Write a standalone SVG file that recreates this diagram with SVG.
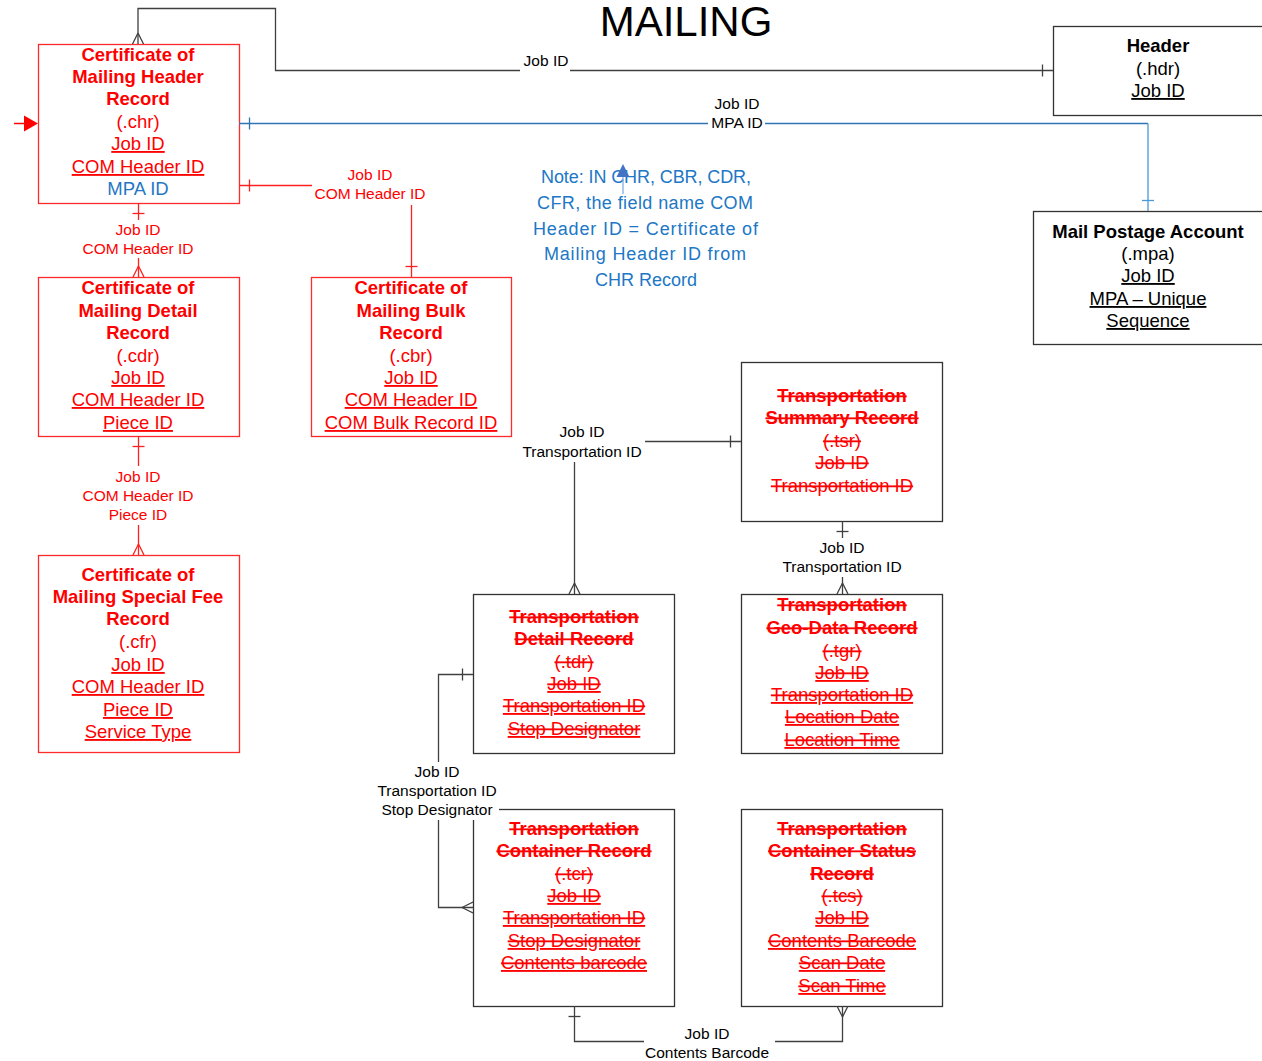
<svg xmlns="http://www.w3.org/2000/svg" width="1262" height="1061" viewBox="0 0 1262 1061">
<style>
.t{font-family:"Liberation Sans",Arial,sans-serif;font-size:18.5px;text-anchor:middle}
.b{font-weight:bold}
.u{text-decoration:underline}
.s{text-decoration:line-through}
.us{text-decoration:underline line-through}
.red{fill:#FF0000}
.blk{fill:#000}
.blu{fill:#1F77C4}
.lbl{font-size:15.5px}
.boxr{fill:#fff;stroke:#FF2A2A;stroke-width:1.3}
.boxk{fill:#fff;stroke:#333;stroke-width:1.3}
.bg{fill:#fff}
.ck{fill:none;stroke:#404040;stroke-width:1.3}
.cr{fill:none;stroke:#FF2020;stroke-width:1.3}
.note{font-family:"Liberation Sans",Arial,sans-serif;font-size:18px;text-anchor:middle;fill:#2077C6}
</style>
<defs>
<marker id="barK" viewBox="0 0 20 20" refX="20" refY="10" markerWidth="20" markerHeight="20" markerUnits="userSpaceOnUse" orient="auto-start-reverse"><path d="M9.5,4 V16" stroke="#404040" stroke-width="1.3" fill="none"/></marker>
<marker id="manyK" viewBox="0 0 20 20" refX="20" refY="10" markerWidth="20" markerHeight="20" markerUnits="userSpaceOnUse" orient="auto-start-reverse"><path d="M9,10 L20,4.5 M9,10 L20,15.5" stroke="#404040" stroke-width="1.3" fill="none"/></marker>
<marker id="barR" viewBox="0 0 20 20" refX="20" refY="10" markerWidth="20" markerHeight="20" markerUnits="userSpaceOnUse" orient="auto-start-reverse"><path d="M9.5,4 V16" stroke="#FF2020" stroke-width="1.3" fill="none"/></marker>
<marker id="manyR" viewBox="0 0 20 20" refX="20" refY="10" markerWidth="20" markerHeight="20" markerUnits="userSpaceOnUse" orient="auto-start-reverse"><path d="M9,10 L20,4.5 M9,10 L20,15.5" stroke="#FF2020" stroke-width="1.3" fill="none"/></marker>
<marker id="barB" viewBox="0 0 20 20" refX="20" refY="10" markerWidth="20" markerHeight="20" markerUnits="userSpaceOnUse" orient="auto-start-reverse"><path d="M9.5,4 V16" stroke="#2E75B6" stroke-width="1.3" fill="none"/></marker>
<marker id="barLB" viewBox="0 0 20 20" refX="20" refY="10" markerWidth="20" markerHeight="20" markerUnits="userSpaceOnUse" orient="auto-start-reverse"><path d="M9.5,4 V16" stroke="#4A9AD8" stroke-width="1.3" fill="none"/></marker>
</defs>
<rect width="1262" height="1061" fill="#fff"/>
<text x="686" y="36" font-family="Liberation Sans,Arial,sans-serif" font-size="42" text-anchor="middle" fill="#000">MAILING</text>

<g id="nodes">
<g id="chr">
<rect class="boxr" x="38.5" y="44.5" width="201" height="159"/>
<text class="t b red" x="138" y="61">Certificate of</text>
<text class="t b red" x="138" y="83">Mailing Header</text>
<text class="t b red" x="138" y="105">Record</text>
<text class="t red" x="138" y="128">(.chr)</text>
<text class="t red u" x="138" y="150">Job ID</text>
<text class="t red u" x="138" y="173">COM Header ID</text>
<text class="t blu" x="138" y="195">MPA ID</text>
</g>
<g id="hdr">
<rect class="boxk" x="1053.5" y="26.5" width="215" height="89"/>
<text class="t b blk" x="1158" y="52">Header</text>
<text class="t blk" x="1158" y="75">(.hdr)</text>
<text class="t blk u" x="1158" y="97">Job ID</text>
</g>
<g id="mpa">
<rect class="boxk" x="1033.5" y="211.5" width="240" height="133"/>
<text class="t b blk" x="1148" y="238">Mail Postage Account</text>
<text class="t blk" x="1148" y="260">(.mpa)</text>
<text class="t blk u" x="1148" y="282">Job ID</text>
<text class="t blk u" x="1148" y="305">MPA – Unique</text>
<text class="t blk u" x="1148" y="327">Sequence</text>
</g>
<g id="cdr">
<rect class="boxr" x="38.5" y="277.5" width="201" height="159"/>
<text class="t b red" x="138" y="294">Certificate of</text>
<text class="t b red" x="138" y="317">Mailing Detail</text>
<text class="t b red" x="138" y="339">Record</text>
<text class="t red" x="138" y="362">(.cdr)</text>
<text class="t red u" x="138" y="384">Job ID</text>
<text class="t red u" x="138" y="406">COM Header ID</text>
<text class="t red u" x="138" y="429">Piece ID</text>
</g>
<g id="cbr">
<rect class="boxr" x="311.5" y="277.5" width="200" height="159"/>
<text class="t b red" x="411" y="294">Certificate of</text>
<text class="t b red" x="411" y="317">Mailing Bulk</text>
<text class="t b red" x="411" y="339">Record</text>
<text class="t red" x="411" y="362">(.cbr)</text>
<text class="t red u" x="411" y="384">Job ID</text>
<text class="t red u" x="411" y="406">COM Header ID</text>
<text class="t red u" x="411" y="429">COM Bulk Record ID</text>
</g>
<g id="cfr">
<rect class="boxr" x="38.5" y="555.5" width="201" height="197"/>
<text class="t b red" x="138" y="581">Certificate of</text>
<text class="t b red" x="138" y="603">Mailing Special Fee</text>
<text class="t b red" x="138" y="625">Record</text>
<text class="t red" x="138" y="648">(.cfr)</text>
<text class="t red u" x="138" y="671">Job ID</text>
<text class="t red u" x="138" y="693">COM Header ID</text>
<text class="t red u" x="138" y="716">Piece ID</text>
<text class="t red u" x="138" y="738">Service Type</text>
</g>
<g id="tsr">
<rect class="boxk" x="741.5" y="362.5" width="201" height="159"/>
<text class="t b red s" x="842" y="402">Transportation</text>
<text class="t b red s" x="842" y="424">Summary Record</text>
<text class="t red s" x="842" y="447">(.tsr)</text>
<text class="t red s" x="842" y="469">Job ID</text>
<text class="t red s" x="842" y="492">Transportation ID</text>
</g>
<g id="tdr">
<rect class="boxk" x="473.5" y="594.5" width="201" height="159"/>
<text class="t b red s" x="574" y="623">Transportation</text>
<text class="t b red s" x="574" y="645">Detail Record</text>
<text class="t red s" x="574" y="668">(.tdr)</text>
<text class="t red us" x="574" y="690">Job ID</text>
<text class="t red us" x="574" y="712">Transportation ID</text>
<text class="t red us" x="574" y="735">Stop Designator</text>
</g>
<g id="tgr">
<rect class="boxk" x="741.5" y="594.5" width="201" height="159"/>
<text class="t b red s" x="842" y="611">Transportation</text>
<text class="t b red s" x="842" y="634">Geo-Data Record</text>
<text class="t red s" x="842" y="657">(.tgr)</text>
<text class="t red us" x="842" y="679">Job ID</text>
<text class="t red us" x="842" y="701">Transportation ID</text>
<text class="t red us" x="842" y="723">Location Date</text>
<text class="t red us" x="842" y="746">Location Time</text>
</g>
<g id="tcr">
<rect class="boxk" x="473.5" y="809.5" width="201" height="197"/>
<text class="t b red s" x="574" y="835">Transportation</text>
<text class="t b red s" x="574" y="857">Container Record</text>
<text class="t red s" x="574" y="880">(.tcr)</text>
<text class="t red us" x="574" y="902">Job ID</text>
<text class="t red us" x="574" y="924">Transportation ID</text>
<text class="t red us" x="574" y="947">Stop Designator</text>
<text class="t red us" x="574" y="969">Contents barcode</text>
</g>
<g id="tcs">
<rect class="boxk" x="741.5" y="809.5" width="201" height="197"/>
<text class="t b red s" x="842" y="835">Transportation</text>
<text class="t b red s" x="842" y="857">Container Status</text>
<text class="t b red s" x="842" y="880">Record</text>
<text class="t red s" x="842" y="902">(.tcs)</text>
<text class="t red us" x="842" y="924">Job ID</text>
<text class="t red us" x="842" y="947">Contents Barcode</text>
<text class="t red us" x="842" y="969">Scan Date</text>
<text class="t red us" x="842" y="992">Scan Time</text>
</g>
<g id="note">
<text class="note" x="646" y="183" textLength="210" lengthAdjust="spacing">Note: IN CHR, CBR, CDR,</text>
<text class="note" x="645" y="209" textLength="216" lengthAdjust="spacing">CFR, the field name COM</text>
<text class="note" x="645.5" y="235" textLength="225" lengthAdjust="spacing">Header ID =  Certificate of</text>
<text class="note" x="645" y="260" textLength="202" lengthAdjust="spacing">Mailing Header ID from</text>
<text class="note" x="646" y="286" textLength="102" lengthAdjust="spacing">CHR Record</text>
<line x1="623" y1="194" x2="623" y2="176" stroke="#7AA7DC" stroke-width="1.2"/>
<polygon points="623,164 616.5,177 629.5,177" fill="#4472C4"/>
</g>
</g>

<g id="connectors">
<g id="entry">
<line x1="14" y1="123.5" x2="26" y2="123.5" stroke="#FF0000" stroke-width="1.5"/>
<polygon points="24,115.5 38,123.5 24,131.5" fill="#FF0000"/>
</g>
<g id="c-chr-hdr">
<path class="ck" d="M138,44 V8.5 H275.5 V70.5 H1053" marker-start="url(#manyK)" marker-end="url(#barK)"/>
<rect class="bg" x="520" y="51" width="50" height="23"/>
<text class="t lbl blk" x="546" y="66">Job ID</text>
</g>
<g id="c-chr-mpa">
<path d="M239,123.5 H1148" fill="none" stroke="#2E75B6" stroke-width="1.3" marker-start="url(#barB)"/>
<path d="M1148,123.5 V211" fill="none" stroke="#4A9AD8" stroke-width="1.3" marker-end="url(#barLB)"/>
<rect class="bg" x="708" y="114" width="57" height="18"/>
<text class="t lbl blk" x="737" y="108.5">Job ID</text>
<text class="t lbl blk" x="737" y="127.5">MPA ID</text>
</g>
<g id="c-chr-cbr">
<path class="cr" d="M239,185.5 H411.5 V277" marker-start="url(#barR)" marker-end="url(#barR)"/>
<rect class="bg" x="312" y="165" width="118" height="40"/>
<text class="t lbl red" x="370" y="179.5">Job ID</text>
<text class="t lbl red" x="370" y="198.5">COM Header ID</text>
</g>
<g id="c-chr-cdr">
<path class="cr" d="M138.5,203 V277" marker-start="url(#barR)" marker-end="url(#manyR)"/>
<rect class="bg" x="78" y="220" width="120" height="38"/>
<text class="t lbl red" x="138" y="234.5">Job ID</text>
<text class="t lbl red" x="138" y="253.5">COM Header ID</text>
</g>
<g id="c-cdr-cfr">
<path class="cr" d="M138.5,436 V555" marker-start="url(#barR)" marker-end="url(#manyR)"/>
<rect class="bg" x="78" y="466" width="120" height="59"/>
<text class="t lbl red" x="138" y="481.5">Job ID</text>
<text class="t lbl red" x="138" y="500.5">COM Header ID</text>
<text class="t lbl red" x="138" y="519.5">Piece ID</text>
</g>
<g id="c-tsr-tdr">
<path class="ck" d="M741,441.5 H574.5 V594" marker-start="url(#barK)" marker-end="url(#manyK)"/>
<rect class="bg" x="518" y="420" width="127" height="42"/>
<text class="t lbl blk" x="582" y="436.5">Job ID</text>
<text class="t lbl blk" x="582" y="456.5">Transportation ID</text>
</g>
<g id="c-tsr-tgr">
<path class="ck" d="M842.5,521 V594" marker-start="url(#barK)" marker-end="url(#manyK)"/>
<rect class="bg" x="778" y="538" width="128" height="39"/>
<text class="t lbl blk" x="842" y="552.5">Job ID</text>
<text class="t lbl blk" x="842" y="571.5">Transportation ID</text>
</g>
<g id="c-tdr-tcr">
<path class="ck" d="M473,674.5 H438.5 V907.5 H473" marker-start="url(#barK)" marker-end="url(#manyK)"/>
<rect class="bg" x="374" y="762" width="125" height="58"/>
<text class="t lbl blk" x="437" y="776.5">Job ID</text>
<text class="t lbl blk" x="437" y="795.5">Transportation ID</text>
<text class="t lbl blk" x="437" y="814.5">Stop Designator</text>
</g>
<g id="c-tcr-tcs">
<path class="ck" d="M574.5,1006 V1041.5 H842.5 V1006" marker-start="url(#barK)" marker-end="url(#manyK)"/>
<rect class="bg" x="644" y="1023" width="131" height="38"/>
<text class="t lbl blk" x="707" y="1038.5">Job ID</text>
<text class="t lbl blk" x="707" y="1057.5">Contents Barcode</text>
</g>
</g>
</svg>
